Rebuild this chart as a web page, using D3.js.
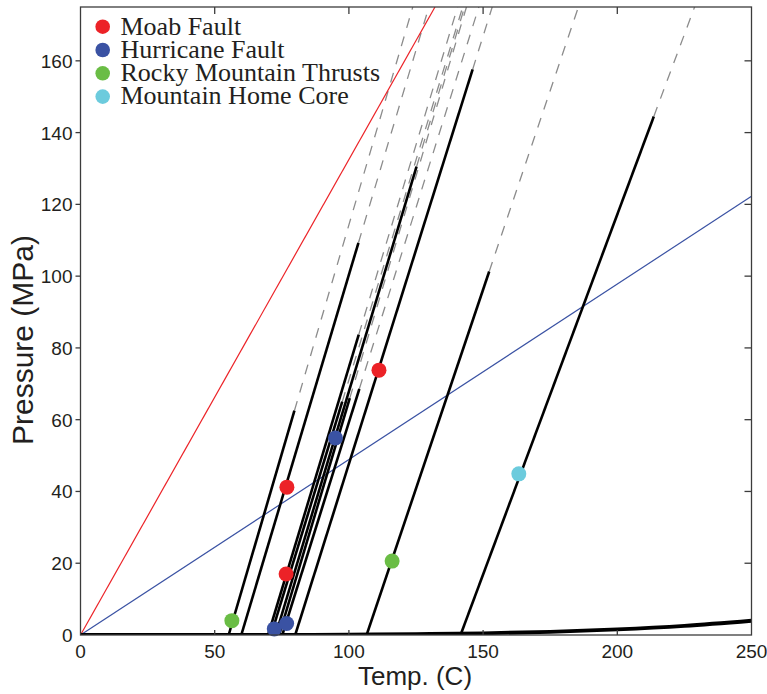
<!DOCTYPE html>
<html>
<head>
<meta charset="utf-8">
<script src="https://cdn.jsdelivr.net/npm/d3@7"></script>
<style>
  html, body { margin: 0; padding: 0; background: #fff; }
  svg { display: block; }
</style>
</head>
<body>
<svg id="chart" width="767" height="694"></svg>
<script>
// Pressure–temperature paths: each path leaves P = 0 at startT, is solid up to endP,
// then continues dashed along the same gradient to the top of the plot (topT at P = 175).
const pathStartT = [55.2, 59.9, 69.9, 71.0, 72.7, 74.0, 75.2, 80.0, 106.6, 141.6];
const pathTopT   = [123.8, 129.8, 140.5, 142.4, 143.1, 143.8, 148.4, 153.4, 185.5, 228.8];
const pathEndP   = [62.5, 109.3, 83.7, 65.0, 130.5, 66.0, 68.6, 157.6, 101.3, 144.5];

// Reference gradients through the origin (MPa per °C)
const lithostaticSlope = 1.325;
const hydrostaticSlope = 0.489;

// Water liquid–vapour saturation curve
const satT = [0, 25, 50, 75, 100, 125, 150, 175, 200, 225, 250];
const satP = [0.0006, 0.0032, 0.0124, 0.0386, 0.1014, 0.232, 0.476, 0.892, 1.555, 2.548, 3.976];

// Sample locations
const groups = ["Moab Fault", "Hurricane Fault", "Rocky Mountain Thrusts", "Mountain Home Core"];
const groupColors = ["#ec2227", "#3a52a3", "#6abd45", "#6ccbdd"];
const moabT = [76.9, 76.6, 111.2], moabP = [41.2, 17.0, 73.8];
const hurricaneT = [95.0, 72.2, 76.8], hurricaneP = [54.9, 1.7, 3.2];
const rockyT = [56.4, 116.1], rockyP = [4.0, 20.6];
const homeT = [163.3], homeP = [44.9];

const xTicks = [0, 50, 100, 150, 200, 250];
const yTicks = [0, 20, 40, 60, 80, 100, 120, 140, 160];

(function () {
  const svg = d3.select("#chart");
  const mLeft = 80.5, mRight = 751.5, mTop = 7, mBottom = 635;
  const x = d3.scaleLinear().domain([0, 250]).range([mLeft, mRight]);
  const y = d3.scaleLinear().domain([0, 175]).range([mBottom, mTop]);
  const P_MAX = 175;

  svg.append("defs").append("clipPath").attr("id", "plot")
    .append("rect").attr("x", mLeft).attr("y", mTop)
    .attr("width", mRight - mLeft).attr("height", mBottom - mTop);

  const plot = svg.append("g").attr("clip-path", "url(#plot)");
  const line = d3.line().x(d => x(d[0])).y(d => y(d[1]));

  const paths = pathStartT.map((t0, i) => {
    const t1 = pathTopT[i];
    const endT = t0 + (t1 - t0) * pathEndP[i] / P_MAX;
    return { solid: [[t0, 0], [endT, pathEndP[i]]], dashed: [[endT, pathEndP[i]], [t1, P_MAX]] };
  });

  // dashed continuations
  plot.selectAll("path.ext").data(paths).join("path")
    .attr("class", "ext")
    .attr("d", d => line(d.dashed))
    .attr("fill", "none").attr("stroke", "#8c8c8c")
    .attr("stroke-width", 1.3).attr("stroke-dasharray", "10,9");

  // gradient lines
  plot.append("path").attr("d", line([[0, 0], [P_MAX / lithostaticSlope, P_MAX]]))
    .attr("stroke", "#ec2227").attr("stroke-width", 1.2).attr("fill", "none");
  plot.append("path").attr("d", line([[0, 0], [250, 250 * hydrostaticSlope]]))
    .attr("stroke", "#3a52a3").attr("stroke-width", 1.2).attr("fill", "none");

  // solid paths
  plot.selectAll("path.solid").data(paths).join("path")
    .attr("class", "solid")
    .attr("d", d => line(d.solid))
    .attr("fill", "none").attr("stroke", "#000")
    .attr("stroke-width", 2.6);

  // saturation curve
  plot.append("path")
    .attr("d", d3.line().curve(d3.curveMonotoneX).x(d => x(d)).y((d, i) => y(satP[i]))(satT))
    .attr("fill", "none").attr("stroke", "#000").attr("stroke-width", 3.8);

  // sample points
  const samples = [
    [moabT, moabP, 0], [hurricaneT, hurricaneP, 1], [rockyT, rockyP, 2], [homeT, homeP, 3]
  ].flatMap(([ts, ps, g]) => ts.map((t, i) => ({ t, p: ps[i], g })));
  svg.append("g").selectAll("circle").data(samples).join("circle")
    .attr("cx", d => x(d.t)).attr("cy", d => y(d.p)).attr("r", 7.5)
    .attr("fill", d => groupColors[d.g]);

  // axes box
  const axisColor = "#3c3c3c";
  svg.append("rect").attr("x", mLeft).attr("y", mTop)
    .attr("width", mRight - mLeft).attr("height", mBottom - mTop)
    .attr("fill", "none").attr("stroke", axisColor).attr("stroke-width", 1.3);

  // bottom and top ticks (inward)
  const ax = svg.append("g").attr("stroke", axisColor).attr("stroke-width", 1.3);
  xTicks.slice(1, -1).forEach(t => {
    ax.append("line").attr("x1", x(t)).attr("x2", x(t)).attr("y1", mBottom).attr("y2", mBottom - 5);
    ax.append("line").attr("x1", x(t)).attr("x2", x(t)).attr("y1", mTop).attr("y2", mTop + 7);
  });
  // left ticks (outward) and right ticks (inward)
  yTicks.slice(1).forEach(t => {
    ax.append("line").attr("x1", mLeft - 5).attr("x2", mLeft).attr("y1", y(t)).attr("y2", y(t));
    ax.append("line").attr("x1", mRight - 7).attr("x2", mRight).attr("y1", y(t)).attr("y2", y(t));
  });

  const labelFont = "'Liberation Sans', Arial, Helvetica, sans-serif";
  svg.append("g").selectAll("text").data(xTicks).join("text")
    .attr("x", d => x(d)).attr("y", mBottom + 23)
    .attr("text-anchor", "middle")
    .attr("font-family", labelFont).attr("font-size", 19).attr("fill", "#231f20")
    .text(d => d);
  svg.append("g").selectAll("text").data(yTicks).join("text")
    .attr("x", mLeft - 8).attr("y", d => y(d) + 7)
    .attr("text-anchor", "end")
    .attr("font-family", labelFont).attr("font-size", 19).attr("fill", "#231f20")
    .text(d => d);

  svg.append("text").attr("x", 415).attr("y", 685)
    .attr("text-anchor", "middle")
    .attr("font-family", labelFont).attr("font-size", 26).attr("fill", "#231f20")
    .text("Temp. (C)");
  svg.append("text")
    .attr("transform", "translate(33, 340) rotate(-90)")
    .attr("text-anchor", "middle")
    .attr("font-family", labelFont).attr("font-size", 30).attr("fill", "#231f20")
    .text("Pressure (MPa)");

  // legend
  const legend = svg.append("g").selectAll("g").data(groups).join("g")
    .attr("transform", (d, i) => `translate(0, ${26.7 + i * 23.3})`);
  legend.append("circle").attr("cx", 102.7).attr("cy", 0).attr("r", 7.3)
    .attr("fill", (d, i) => groupColors[i]);
  legend.append("text").attr("x", 120.5).attr("y", 7.8)
    .attr("font-family", "'Liberation Serif', 'Times New Roman', serif")
    .attr("font-size", 26).attr("fill", "#231f20")
    .text(d => d);
})();
</script>
</body>
</html>
